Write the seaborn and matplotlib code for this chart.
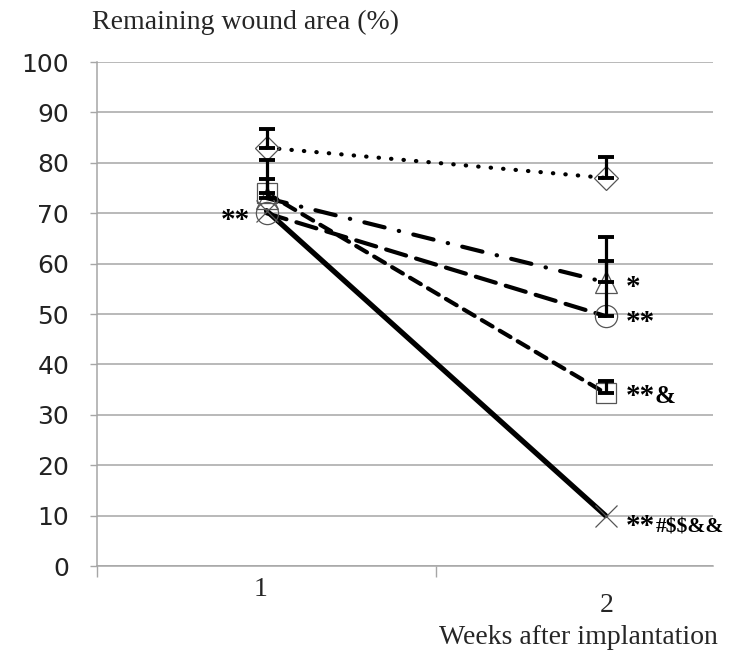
import matplotlib
matplotlib.use("Agg")
import matplotlib.pyplot as plt
import seaborn as sns
import numpy as np
import pandas as pd

# ---- data ----
weeks = [1, 2]
week_labels = ["1", "2"]

diamond_vals = [83.0, 77.0]
diamond_err = [3.7, 4.2]
square_vals = [74.0, 34.3]
square_err = [6.6, 2.5]
triangle_vals = [73.0, 56.3]
triangle_err = [3.7, 9.0]
circle_vals = [70.0, 49.6]
circle_err = [0.0, 11.0]
cross_vals = [70.5, 10.0]
cross_err = [0.0, 0.0]

y_ticks = [0, 10, 20, 30, 40, 50, 60, 70, 80, 90, 100]

annot_week1 = "**"
annot_triangle = "*"
annot_circle = "**"
annot_square = ("**", "&")
annot_cross = ("**", "#$$&&")

title_text = "Remaining wound area (%)"
xlabel_text = "Weeks after implantation"

# ---- style ----
sns.set_style("white")
plt.rcParams["font.family"] = ["DejaVu Sans"]
plt.rcParams["lines.solid_capstyle"] = "round"

fig = plt.figure(figsize=(7.3, 6.5), dpi=100)
W, H = 730, 650
ax = fig.add_axes([97 / W, 1 - 566 / H, (713 - 97) / W, (566 - 62) / H])

grid_c = "#a6a6a6"
edge_c = "#555555"

series = [
    ("diamond", diamond_vals, diamond_err, "D", 12.5, (0, (0.1, 2.9)), 3.0),
    ("square", square_vals, square_err, "s", 15, (0, (3.0, 2.0)), 3.0),
    ("triangle", triangle_vals, triangle_err, "^", 16, (0, (5.0, 3.5, 0.1, 3.5)), 3.0),
    ("circle", circle_vals, circle_err, "o", 16, (0, (5.0, 2.5)), 3.0),
    ("cross", cross_vals, cross_err, "x", 16, "-", 3.8),
]

for name, vals, errs, mk, ms, ls, lw in series:
    df = pd.DataFrame({"week": weeks, "value": vals})
    sns.lineplot(data=df, x="week", y="value", ax=ax, color="black",
                 linestyle=ls, linewidth=lw, dash_capstyle="round",
                 marker=None, zorder=3)
    ax.plot(weeks, vals, linestyle="none", marker=mk, markersize=ms,
            markerfacecolor="none", markeredgecolor=edge_c,
            markeredgewidth=0.9, zorder=4, clip_on=False)
    ex = [w for w, e in zip(weeks, errs) if e > 0]
    ey = [v for v, e in zip(vals, errs) if e > 0]
    ee = [e for e in errs if e > 0]
    if ee:
        ax.errorbar(ex, ey, yerr=[np.zeros(len(ee)), ee], fmt="none",
                    ecolor="black", elinewidth=2.3, capsize=6, capthick=2.8,
                    zorder=5, clip_on=False)

ax.set_xlim(0.5, 2.317)
ax.set_ylim(0, 100)
ax.set_yticks(y_ticks)
ax.set_yticklabels([str(t) for t in y_ticks], fontsize=18, color="#222222")
ax.set_xticks([0.5, 1.5])
ax.set_xticklabels(["", ""])
ax.yaxis.grid(True, color=grid_c, linewidth=1.1)
ax.xaxis.grid(False)
ax.tick_params(axis="y", length=5, width=1, color=grid_c, pad=15, left=True)
ax.tick_params(axis="x", length=8, width=1, color=grid_c, bottom=True)
ax.set_xlabel("")
ax.set_ylabel("")
for s in ["top", "right"]:
    ax.spines[s].set_visible(False)
for s in ["left", "bottom"]:
    ax.spines[s].set_color(grid_c)
    ax.spines[s].set_linewidth(1.1)

serif = ["Liberation Serif", "DejaVu Serif"]

# category labels (as in reference, "2" sits lower than "1")
fig.text(261 / W, 1 - 590 / H, week_labels[0], family=serif, fontsize=20,
         ha="center", va="center")
fig.text(607 / W, 1 - 606 / H, week_labels[1], family=serif, fontsize=20,
         ha="center", va="center")

fig.text(92 / W, 1 - 22 / H, title_text, family=serif, fontsize=20,
         ha="left", va="center")
fig.text(718 / W, 1 - 637 / H, xlabel_text, family=serif, fontsize=20,
         ha="right", va="center")

bold = dict(family=serif, fontweight="bold", color="black")

def ann(x, y, dx, dy, s, size, ha="left"):
    ax.annotate(s, xy=(x, y), xytext=(dx * 0.72, -dy * 0.72),
                textcoords="offset points", fontsize=size, ha=ha,
                va="center", annotation_clip=False, parse_math=False, **bold)

ann(weeks[0], circle_vals[0], -46, 7, annot_week1, 21)
ann(weeks[1], triangle_vals[1], 20, 5, annot_triangle, 21)
ann(weeks[1], circle_vals[1], 20, 6, annot_circle, 21)
ann(weeks[1], square_vals[1], 20, 3, annot_square[0], 21)
ann(weeks[1], square_vals[1], 49, 3, annot_square[1], 18)
ann(weeks[1], cross_vals[1], 20, 11, annot_cross[0], 21)
ann(weeks[1], cross_vals[1], 50, 12, annot_cross[1], 15.5)

fig.savefig("out.png", dpi=100)
